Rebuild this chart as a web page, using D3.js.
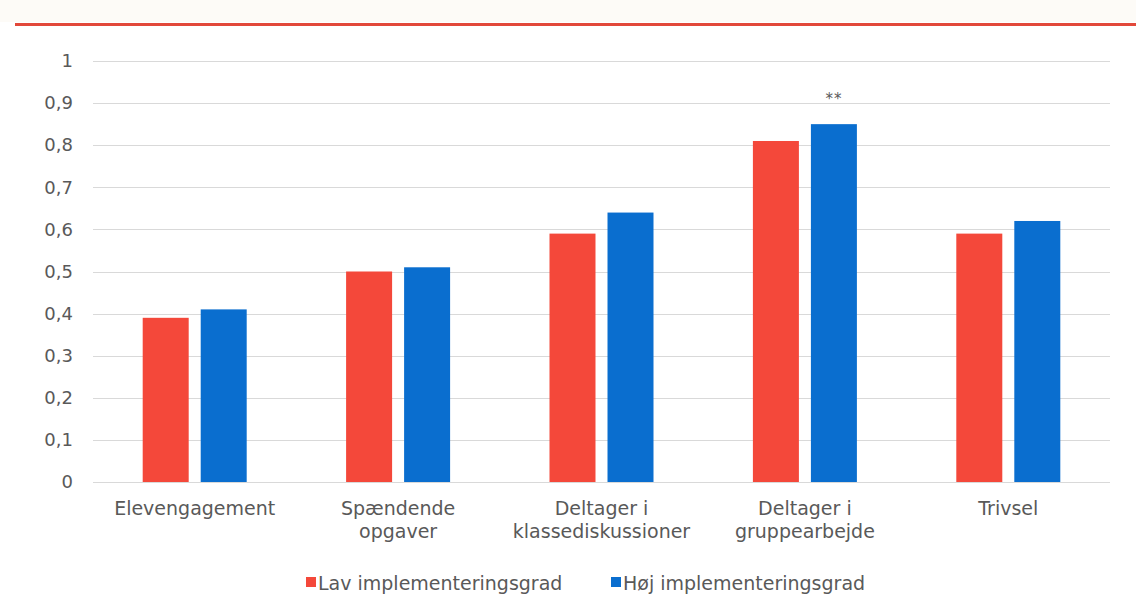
<!DOCTYPE html>
<html lang="da">
<head>
<meta charset="UTF-8">
<title>Implementeringsgrad</title>
<style>
  body { margin: 0; background: #fff; }
  svg { display: block; font-family: "DejaVu Sans", Verdana, sans-serif; }
</style>
</head>
<body>
<script src="https://d3js.org/d3.v7.min.js"></script>
<script>
// data
var categories = [
    ["Elevengagement"],
    ["Spændende", "opgaver"],
    ["Deltager i", "klassediskussioner"],
    ["Deltager i", "gruppearbejde"],
    ["Trivsel"]
];
var series = ["Lav implementeringsgrad", "Høj implementeringsgrad"];
var lavValues = [0.39, 0.50, 0.59, 0.81, 0.59];
var hojValues = [0.41, 0.51, 0.64, 0.85, 0.62];
var yTicks = [0, 0.1, 0.2, 0.3, 0.4, 0.5, 0.6, 0.7, 0.8, 0.9, 1];
var marks = ["", "", "", "**", ""];   // significance markers on the high bars

var colors = ["#f4483a", "#0a6ecf"];

var W = 1136, H = 596;
var margin = {top: 61, right: 26, bottom: 114, left: 93};
var width = W - margin.left - margin.right,
    height = H - margin.top - margin.bottom;

var svg = d3.select("body").append("svg")
    .attr("width", W)
    .attr("height", H);

// red header rule
svg.append("rect").attr("x", 0).attr("y", 0).attr("width", W).attr("height", 22).attr("fill", "#fdfbf7");
svg.append("line")
    .attr("x1", 15).attr("x2", W)
    .attr("y1", 24.5).attr("y2", 24.5)
    .attr("stroke", "#e2483a").attr("stroke-width", 3);

var g = svg.append("g")
    .attr("transform", "translate(" + margin.left + "," + margin.top + ")");

var x0 = d3.scaleBand()
    .domain(d3.range(categories.length))
    .range([0, width])
    .paddingInner(0).paddingOuter(0);

var x1 = d3.scaleBand()
    .domain([0, 1])
    .range([x0.bandwidth() / 2 - 52, x0.bandwidth() / 2 + 52])
    .paddingInner(0.207);

var y = d3.scaleLinear().domain([0, 1]).range([height, 0]);

// gridlines
g.append("g")
    .selectAll("line")
    .data(yTicks)
    .join("line")
    .attr("x1", 0).attr("x2", width)
    .attr("y1", function(d) { return Math.round(y(d)) + 0.5; })
    .attr("y2", function(d) { return Math.round(y(d)) + 0.5; })
    .attr("stroke", "#d9d9d9").attr("stroke-width", 1.2);

// y axis labels
var fmt = function(d) { return d3.format("")(+d.toFixed(1)).replace(".", ","); };
var yAxis = d3.axisLeft(y).tickValues(yTicks).tickFormat(fmt).tickSize(0).tickPadding(20);
var ya = g.append("g").call(yAxis);
ya.select(".domain").remove();
ya.selectAll("text")
    .attr("fill", "#595959")
    .style("font-family", "'DejaVu Sans', sans-serif")
    .style("font-size", "18px");

// bars
var groups = g.selectAll(".cat")
    .data(categories)
    .join("g")
    .attr("class", "cat")
    .attr("transform", function(d, i) { return "translate(" + x0(i) + ",0)"; });

groups.each(function(d, i) {
    var vals = [lavValues[i], hojValues[i]];
    d3.select(this).selectAll("rect")
        .data(vals)
        .join("rect")
        .attr("x", function(v, j) { return x1(j); })
        .attr("y", function(v) { return y(v); })
        .attr("width", x1.bandwidth())
        .attr("height", function(v) { return height - y(v); })
        .attr("fill", function(v, j) { return colors[j]; });

    if (marks[i]) {
        d3.select(this).append("text")
            .attr("x", x1(1) + x1.bandwidth() / 2)
            .attr("y", y(hojValues[i]) - 20)
            .attr("text-anchor", "middle")
            .attr("fill", "#595959")
            .style("font-size", "15px")
            .style("letter-spacing", "1px")
            .text(marks[i]);
    }

    // category labels
    var lbl = d3.select(this).append("text")
        .attr("text-anchor", "middle")
        .attr("fill", "#595959")
        .style("font-size", "19px");
    lbl.selectAll("tspan")
        .data(d)
        .join("tspan")
        .attr("x", x0.bandwidth() / 2)
        .attr("y", function(t, k) { return height + 33 + k * 23; })
        .text(function(t) { return t; });
});

// legend
var legend = svg.append("g").attr("transform", "translate(0,590)");
var legX = [306, 611];
series.forEach(function(s, i) {
    legend.append("rect")
        .attr("x", legX[i]).attr("y", -13)
        .attr("width", 10).attr("height", 10)
        .attr("fill", colors[i]);
    legend.append("text")
        .attr("x", legX[i] + 12).attr("y", 0)
        .attr("fill", "#595959")
        .style("font-size", "19px")
        .text(s);
});
</script>
</body>
</html>
